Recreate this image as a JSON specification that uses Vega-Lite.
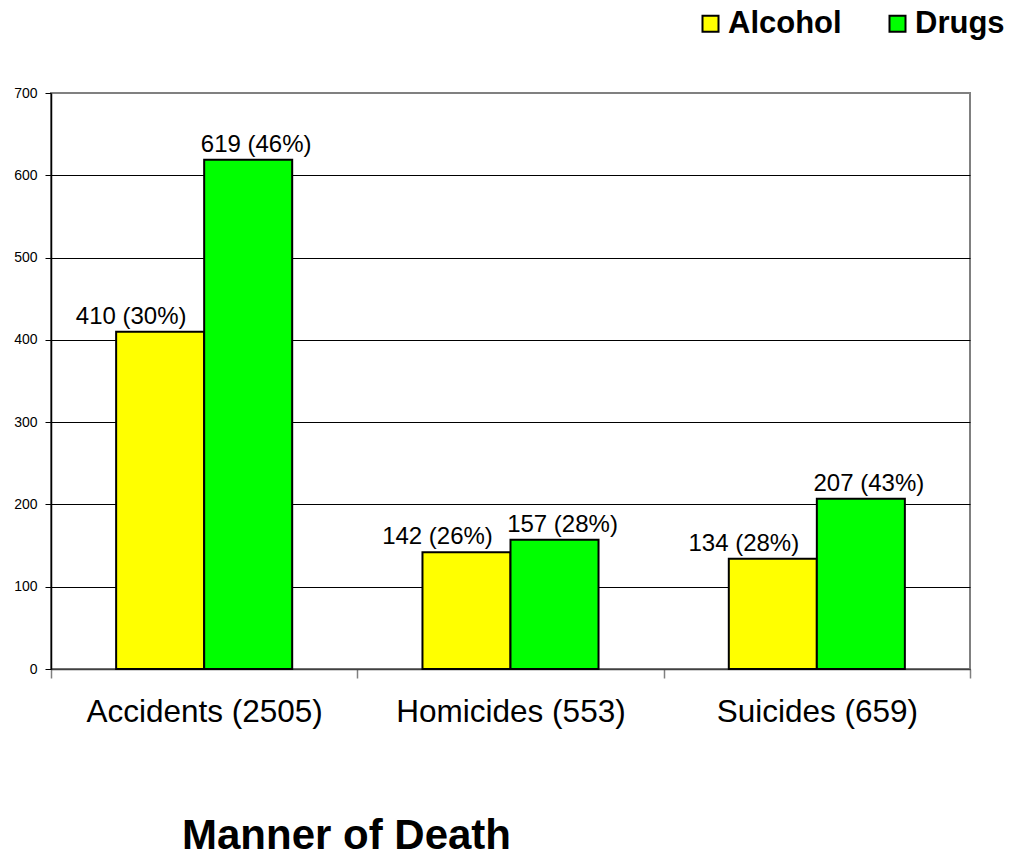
{
  "$schema": "https://vega.github.io/schema/vega-lite/v6.json",
  "autosize": {"type": "none"},
  "width": 919,
  "height": 576,
  "padding": {"left": 51, "top": 93, "right": 45, "bottom": 188},
  "background": "white",
  "config": {
    "font": "Liberation Sans",
    "view": {"stroke": "#808080", "strokeWidth": 2}
  },
  "data": {
    "values": [
      {"manner": "Accidents (2505)", "substance": "Alcohol", "count": 410, "label": "410 (30%)"},
      {"manner": "Accidents (2505)", "substance": "Drugs", "count": 619, "label": "619 (46%)"},
      {"manner": "Homicides (553)", "substance": "Alcohol", "count": 142, "label": "142 (26%)"},
      {"manner": "Homicides (553)", "substance": "Drugs", "count": 157, "label": "157 (28%)"},
      {"manner": "Suicides (659)", "substance": "Alcohol", "count": 134, "label": "134 (28%)"},
      {"manner": "Suicides (659)", "substance": "Drugs", "count": 207, "label": "207 (43%)"}
    ]
  },
  "encoding": {
    "x": {
      "field": "manner",
      "type": "nominal",
      "sort": null,
      "scale": {"paddingInner": 0, "paddingOuter": 0},
      "axis": {
        "title": "Manner of Death",
        "titleFont": "Liberation Sans",
        "titleFontSize": 42,
        "titleFontWeight": "bold",
        "titleColor": "black",
        "titleX": 295,
        "titleY": 179,
        "titleAlign": "center",
        "titleBaseline": "alphabetic",
        "labelAngle": 0,
        "labelFontSize": 31.5,
        "labelLimit": 0,
        "labelColor": "black",
        "labelPadding": 18,
        "tickBand": "extent",
        "tickSize": 9,
        "tickColor": "#808080",
        "tickWidth": 1.5,
        "domainColor": "#404040",
        "domainWidth": 1.5,
        "grid": false
      }
    },
    "xOffset": {
      "field": "substance",
      "type": "nominal",
      "scale": {"paddingInner": 0, "paddingOuter": 0.74}
    },
    "y": {
      "field": "count",
      "type": "quantitative",
      "scale": {"domain": [0, 700], "nice": false},
      "axis": {
        "title": null,
        "values": [0, 100, 200, 300, 400, 500, 600, 700],
        "labelFontSize": 14,
        "labelColor": "black",
        "labelPadding": 8,
        "tickSize": 6,
        "tickColor": "black",
        "domainColor": "black",
        "domainWidth": 1.5,
        "grid": true,
        "gridColor": {"condition": {"test": "datum.value == 700", "value": "#808080"}, "value": "black"},
        "gridWidth": 1,
        "gridOpacity": 1
      }
    }
  },
  "layer": [
    {
      "mark": {"type": "bar", "stroke": "black", "strokeWidth": 2},
      "encoding": {
        "color": {
          "field": "substance",
          "type": "nominal",
          "scale": {"domain": ["Alcohol", "Drugs"], "range": ["#FFFF00", "#00FF00"]},
          "legend": {
            "title": null,
            "orient": "none",
            "direction": "horizontal",
            "legendX": 644,
            "legendY": -85,
            "padding": 0,
            "symbolType": "square",
            "symbolSize": 256,
            "symbolStrokeColor": "black",
            "symbolStrokeWidth": 2,
            "symbolOpacity": 1,
            "labelFontSize": 31,
            "labelFontWeight": "bold",
            "labelColor": "black",
            "labelOffset": 2,
            "labelLimit": 300,
            "columnPadding": 40
          }
        }
      }
    },
    {
      "transform": [{"filter": "datum.substance == 'Alcohol'"}],
      "mark": {"type": "text", "fontSize": 24, "color": "black", "baseline": "alphabetic", "dy": -8, "dx": -29},
      "encoding": {
        "text": {"field": "label"}
      }
    },
    {
      "transform": [{"filter": "datum.substance == 'Drugs'"}],
      "mark": {"type": "text", "fontSize": 24, "color": "black", "baseline": "alphabetic", "dy": -8, "dx": 8},
      "encoding": {
        "text": {"field": "label"}
      }
    }
  ]
}
